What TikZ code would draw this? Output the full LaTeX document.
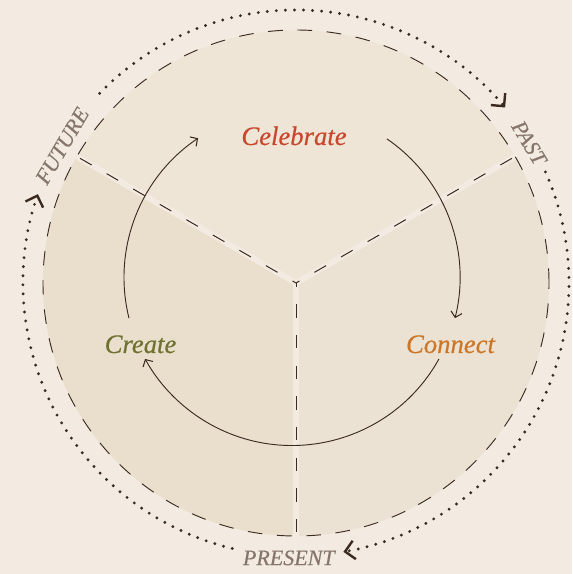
\documentclass[tikz,border=0pt]{standalone}
\usepackage{fontspec}
\setmainfont{Liberation Serif}
\usetikzlibrary{arrows.meta}
\definecolor{bg}{HTML}{F3EBE1}
\definecolor{secTop}{HTML}{EFE5D7}
\definecolor{secLeft}{HTML}{EADFCD}
\definecolor{secRight}{HTML}{ECE2D3}
\definecolor{ink}{HTML}{3B2A20}
\definecolor{celebC}{HTML}{C9472D}
\definecolor{connC}{HTML}{CC7628}
\definecolor{creaC}{HTML}{6E7131}
\definecolor{timeC}{HTML}{85756A}
\tikzset{
  stripe/.style={draw=bg, line width=4.5pt},
  divline/.style={draw=ink, line width=0.75pt, dash pattern=on 10pt off 13pt, dash phase=7pt},
  ring/.style={draw=ink, line width=0.7pt, dash pattern=on 11pt off 11pt},
  dotring/.style={draw=ink, line width=2.4pt, line cap=round, dash pattern=on 0pt off 6.8pt,
     -{Straight Barb[length=7pt,width=14pt,line width=1.8pt 0]}},
  flow/.style={draw=ink, line width=0.7pt,
     -{Straight Barb[length=4pt,width=8.5pt,line width=0.8pt 0]}},
  phase/.style={font=\fontsize{20}{22}\selectfont\itshape\addfontfeature{FakeBold=0.5}},
  timelbl/.style={font=\fontsize{16.5}{18}\selectfont\itshape\addfontfeature{FakeBold=0.3}, text=timeC, inner sep=0pt}
}
\begin{document}
\begin{tikzpicture}[x=0.75pt,y=0.75pt]
\fill[bg] (0,0) rectangle (572,574);
\useasboundingbox (0,0) rectangle (572,574);
\coordinate (C) at (296,291);
\coordinate (I) at (292,296.5);
\path (C) ++(30:253) coordinate (D1);
\path (C) ++(150:253) coordinate (D2);
\path (C) ++(270:253) coordinate (D3);
% sectors
\fill[secTop] (C) -- (D1) arc[start angle=30,end angle=150,radius=253] -- cycle;
\fill[secLeft] (C) -- (D2) arc[start angle=150,end angle=270,radius=253] -- cycle;
\fill[secRight] (C) -- (D3) arc[start angle=270,end angle=390,radius=253] -- cycle;
% dividers
\draw[stripe] (C) -- (D1);
\draw[stripe] (C) -- (D2);
\draw[stripe] (C) -- (D3);
\draw[divline] (C) -- (D1);
\draw[divline] (C) -- (D2);
\draw[divline] (C) -- (D3);
% dashed ring
\draw[ring] (C) circle[radius=253];
% dotted time ring
\draw[dotring] (C) ++(136:273) arc[start angle=136,end angle=40,radius=273];
\draw[dotring] (C) ++(24:273) arc[start angle=24,end angle=-80,radius=273];
\draw[dotring] (C) ++(256.5:273) arc[start angle=256.5,end angle=161,radius=273];
% time labels
\path (C) ++(149.6:271) node[timelbl, rotate=59.6] (fut) {FUTURE};
\path (C) ++(31:272) node[timelbl, rotate=-59] (past) {PAST};
\path (C) ++(268.5:275) node[timelbl] (pres) {PRESENT};
% phase labels
\node[phase, text=celebC, anchor=base] (cel) at (294,429) {Celebrate};
\node[phase, text=connC, anchor=base] (con) at (450.5,221) {Connect};
\node[phase, text=creaC, anchor=base] (cre) at (140.5,221) {Create};
% flow arcs
\draw[flow] (I) ++(55.6:168) arc[start angle=55.6,end angle=-14,radius=168];
\draw[flow] (I) ++(-29:168) arc[start angle=-29,end angle=-151,radius=168];
\draw[flow] (I) ++(194:168) arc[start angle=194,end angle=124,radius=168];
\end{tikzpicture}
\end{document}
